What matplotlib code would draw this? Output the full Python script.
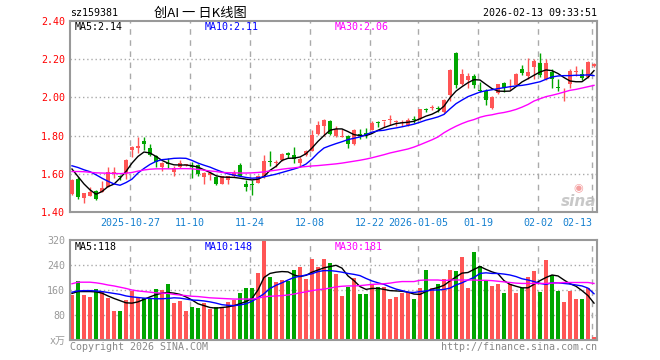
import numpy as np
import pandas as pd
import matplotlib
matplotlib.use("Agg")
import matplotlib.pyplot as plt

# --- data (2025-10-13 .. 2026-02-13, 88 trading days) ---
opens = [1.495, 1.572, 1.475, 1.486, 1.512, 1.505, 1.533, 1.600, 1.588, 1.603,
         1.726, 1.737, 1.774, 1.737, 1.695, 1.635, 1.659, 1.609, 1.633, 1.645,
         1.640, 1.644, 1.582, 1.595, 1.582, 1.547, 1.568, 1.586, 1.644, 1.544,
         1.547, 1.554, 1.582, 1.668, 1.658, 1.670, 1.707, 1.698, 1.656, 1.700,
         1.721, 1.809, 1.849, 1.879, 1.796, 1.795, 1.796, 1.754, 1.807, 1.812,
         1.828, 1.872, 1.877, 1.882, 1.870, 1.868, 1.858, 1.886, 1.889, 1.939,
         1.947, 1.942, 1.923, 2.011, 2.235, 2.068, 2.091, 2.112, 2.035, 2.035,
         1.946, 2.025, 2.075, 2.063, 2.063, 2.147, 2.114, 2.160, 2.182, 2.096,
         2.133, 2.053, 2.005, 2.068, 2.135, 2.123, 2.107, 2.167]
highs = [1.572, 1.582, 1.498, 1.532, 1.515, 1.560, 1.633, 1.634, 1.596, 1.677,
         1.745, 1.791, 1.795, 1.756, 1.700, 1.663, 1.682, 1.639, 1.674, 1.650,
         1.660, 1.650, 1.607, 1.605, 1.590, 1.590, 1.590, 1.621, 1.656, 1.565,
         1.568, 1.595, 1.700, 1.721, 1.670, 1.709, 1.712, 1.740, 1.686, 1.726,
         1.828, 1.875, 1.889, 1.884, 1.852, 1.833, 1.805, 1.835, 1.833, 1.838,
         1.875, 1.879, 1.879, 1.910, 1.884, 1.884, 1.890, 1.905, 1.940, 1.946,
         1.960, 1.956, 1.990, 2.147, 2.239, 2.151, 2.130, 2.125, 2.081, 2.042,
         2.007, 2.072, 2.081, 2.095, 2.130, 2.170, 2.205, 2.203, 2.230, 2.203,
         2.151, 2.095, 2.051, 2.149, 2.163, 2.149, 2.191, 2.179]
lows = [1.490, 1.470, 1.449, 1.484, 1.463, 1.503, 1.530, 1.580, 1.568, 1.572,
        1.690, 1.709, 1.723, 1.695, 1.633, 1.614, 1.630, 1.591, 1.630, 1.640,
        1.580, 1.586, 1.546, 1.567, 1.540, 1.545, 1.547, 1.584, 1.586, 1.512,
        1.488, 1.551, 1.577, 1.642, 1.633, 1.665, 1.684, 1.658, 1.635, 1.691,
        1.718, 1.805, 1.796, 1.805, 1.793, 1.795, 1.735, 1.749, 1.782, 1.787,
        1.828, 1.846, 1.845, 1.856, 1.852, 1.852, 1.852, 1.866, 1.884, 1.924,
        1.933, 1.921, 1.919, 1.981, 2.047, 2.063, 2.051, 2.051, 2.028, 1.960,
        1.940, 2.020, 2.028, 2.040, 2.060, 2.116, 2.098, 2.098, 2.107, 2.093,
        2.051, 2.033, 1.980, 2.051, 2.114, 2.093, 2.103, 2.161]
closes = [1.568, 1.481, 1.498, 1.507, 1.468, 1.528, 1.609, 1.607, 1.584, 1.674,
          1.740, 1.747, 1.758, 1.700, 1.660, 1.656, 1.649, 1.630, 1.656, 1.647,
          1.633, 1.598, 1.603, 1.603, 1.547, 1.586, 1.586, 1.604, 1.591, 1.532,
          1.539, 1.589, 1.668, 1.660, 1.661, 1.705, 1.698, 1.679, 1.679, 1.718,
          1.803, 1.858, 1.884, 1.809, 1.835, 1.800, 1.756, 1.828, 1.800, 1.805,
          1.867, 1.866, 1.879, 1.884, 1.872, 1.870, 1.884, 1.882, 1.937, 1.935,
          1.949, 1.937, 1.984, 2.142, 2.065, 2.121, 2.112, 2.065, 2.033, 1.984,
          2.004, 2.068, 2.051, 2.065, 2.121, 2.126, 2.133, 2.191, 2.116, 2.182,
          2.098, 2.051, 2.007, 2.140, 2.138, 2.100, 2.186, 2.175]

ma5 = [1.625, 1.586, 1.547, 1.516, 1.493, 1.507, 1.533, 1.546, 1.577, 1.612,
       1.656, 1.691, 1.714, 1.709, 1.691, 1.670, 1.656, 1.647, 1.646, 1.646,
       1.642, 1.635, 1.621, 1.607, 1.590, 1.583, 1.582, 1.581, 1.577, 1.572,
       1.568, 1.572, 1.586, 1.618, 1.639, 1.670, 1.681, 1.682, 1.688, 1.705,
       1.735, 1.770, 1.800, 1.828, 1.835, 1.835, 1.821, 1.805, 1.800, 1.800,
       1.811, 1.828, 1.842, 1.853, 1.863, 1.867, 1.870, 1.875, 1.888, 1.902,
       1.912, 1.928, 1.954, 1.998, 2.033, 2.056, 2.077, 2.093, 2.091, 2.068,
       2.046, 2.033, 2.032, 2.033, 2.056, 2.081, 2.098, 2.116, 2.133, 2.144,
       2.140, 2.125, 2.104, 2.086, 2.082, 2.082, 2.105, 2.140]
ma10 = [1.642, 1.633, 1.621, 1.611, 1.595, 1.577, 1.561, 1.547, 1.540, 1.554,
        1.572, 1.604, 1.628, 1.649, 1.665, 1.674, 1.677, 1.681, 1.682, 1.681,
        1.670, 1.656, 1.645, 1.635, 1.622, 1.610, 1.600, 1.593, 1.587, 1.581,
        1.577, 1.579, 1.584, 1.591, 1.598, 1.607, 1.616, 1.625, 1.635, 1.651,
        1.677, 1.709, 1.735, 1.747, 1.758, 1.768, 1.779, 1.786, 1.793, 1.805,
        1.818, 1.825, 1.828, 1.835, 1.840, 1.846, 1.853, 1.860, 1.870, 1.881,
        1.889, 1.898, 1.911, 1.940, 1.967, 1.986, 2.004, 2.016, 2.028, 2.035,
        2.040, 2.046, 2.051, 2.056, 2.060, 2.063, 2.068, 2.075, 2.082, 2.095,
        2.107, 2.112, 2.114, 2.114, 2.116, 2.116, 2.118, 2.114]
ma30 = [1.612, 1.612, 1.611, 1.608, 1.605, 1.604, 1.603, 1.602, 1.601, 1.603,
        1.607, 1.614, 1.620, 1.624, 1.626, 1.626, 1.626, 1.626, 1.627, 1.627,
        1.626, 1.623, 1.619, 1.615, 1.612, 1.607, 1.606, 1.605, 1.604, 1.604,
        1.605, 1.607, 1.610, 1.615, 1.619, 1.624, 1.628, 1.631, 1.635, 1.638,
        1.641, 1.643, 1.646, 1.649, 1.652, 1.656, 1.661, 1.666, 1.671, 1.677,
        1.684, 1.692, 1.700, 1.709, 1.716, 1.723, 1.730, 1.740, 1.752, 1.765,
        1.778, 1.793, 1.815, 1.833, 1.849, 1.863, 1.875, 1.884, 1.896, 1.904,
        1.909, 1.916, 1.921, 1.928, 1.937, 1.949, 1.963, 1.981, 1.993, 2.004,
        2.011, 2.019, 2.028, 2.037, 2.042, 2.049, 2.056, 2.063]

volume = [144, 189, 144, 138, 163, 155, 135, 93, 93, 128,
          157, 139, 133, 133, 163, 160, 179, 119, 125, 93,
          106, 103, 118, 99, 105, 103, 123, 128, 151, 167,
          167, 215, 318, 202, 186, 192, 189, 224, 235, 195,
          260, 235, 260, 246, 212, 141, 171, 199, 148, 148,
          179, 171, 169, 131, 139, 151, 155, 131, 167, 224,
          167, 179, 195, 224, 221, 266, 166, 282, 238, 189,
          173, 180, 150, 180, 150, 165, 202, 221, 154, 256,
          208, 157, 122, 157, 131, 131, 166, 10]
vma5 = [149, 155, 155, 155, 154, 150, 141, 133, 126, 119,
        118, 122, 130, 138, 145, 150, 152, 150, 146, 138,
        128, 116, 110, 104, 102, 104, 106, 110, 116, 123,
        133, 160, 200, 213, 217, 219, 218, 208, 203, 207,
        217, 224, 231, 235, 239, 230, 205, 190, 171, 162,
        165, 165, 162, 158, 157, 156, 153, 147, 146, 155,
        163, 168, 175, 189, 202, 214, 216, 226, 235, 226,
        218, 212, 190, 178, 172, 167, 167, 178, 190, 200,
        208, 205, 192, 180, 172, 158, 142, 118]
vma10 = [153, 157, 158, 158, 157, 155, 152, 149, 146, 141,
         138, 136, 134, 133, 132, 132, 133, 135, 134, 131,
         128, 127, 125, 122, 118, 113, 111, 110, 112, 116,
         124, 135, 148, 165, 175, 183, 192, 200, 204, 208,
         212, 219, 222, 222, 220, 217, 213, 210, 206, 197,
         189, 183, 178, 170, 163, 158, 153, 152, 155, 157,
         160, 160, 162, 166, 176, 183, 192, 200, 213, 215,
         213, 213, 211, 208, 203, 196, 192, 187, 181, 178,
         183, 183, 181, 179, 176, 173, 166, 148]
vma30 = [180, 185, 185, 185, 183, 180, 176, 173, 169, 165,
         160, 157, 155, 153, 151, 150, 149, 146, 144, 142,
         140, 139, 137, 135, 134, 133, 132, 131, 131, 131,
         131, 134, 138, 140, 141, 142, 144, 147, 151, 154,
         158, 161, 163, 166, 170, 172, 173, 173, 174, 176,
         178, 179, 180, 182, 185, 187, 187, 187, 191, 192,
         192, 192, 190, 192, 192, 192, 192, 192, 191, 191,
         190, 188, 186, 184, 182, 181, 181, 181, 181, 181,
         182, 183, 184, 184, 184, 184, 184, 181]

holidays = ["2026-01-01", "2026-01-02"]
tick_dates = ["2025-10-27", "2025-11-10", "2025-11-24", "2025-12-08", "2025-12-22",
              "2026-01-05", "2026-01-19", "2026-02-02", "2026-02-13"]
tick_labels = ["2025-10-27", "11-10", "11-24", "12-08", "12-22",
               "2026-01-05", "01-19", "02-02", "02-13"]
price_ticks = [1.40, 1.60, 1.80, 2.00, 2.20, 2.40]
vol_ticks = [80, 160, 240, 320]

RED, GREEN = "#ff5555", "#00a600"
GRID = "#aaaaaa"
MONO = "DejaVu Sans Mono"
FS = 7.2

dates = pd.bdate_range("2025-10-13", "2026-02-13")
dates = dates[~dates.isin(pd.to_datetime(holidays))]
x = np.arange(len(dates))
tick_pos = [dates.get_loc(pd.Timestamp(d)) - 0.33 for d in tick_dates]

o, h, l, c = map(np.array, (opens, highs, lows, closes))
up = c >= o
cols = np.where(up, RED, GREEN)

fig = plt.figure(figsize=(6.6, 3.6), dpi=100)
W, H = 660, 360
def box(l_, t_, r_, b_):
    return [l_ / W, 1 - b_ / H, (r_ - l_) / W, (b_ - t_) / H]

axp = fig.add_axes(box(70, 21, 597, 212))
axv = fig.add_axes(box(70, 240, 597, 340))

for ax in (axp, axv):
    ax.set_xlim(-0.33, 87.5)
    for s in ax.spines.values():
        s.set_color("#999999"); s.set_linewidth(1.5)
    for tp in tick_pos:
        ax.axvline(tp, color=GRID, lw=1, ls=(0, (4, 4)), zorder=0)
    ax.tick_params(length=0)

# price panel
axp.set_ylim(1.40, 2.40)
for yv in price_ticks[1:-1]:
    axp.axhline(yv, color=GRID, lw=1, ls=(0, (1, 2)), zorder=0)
axp.vlines(x, l, h, colors=cols, lw=1, zorder=2)
body = np.maximum(np.abs(c - o), 0.004)
axp.bar(x, body, bottom=np.minimum(o, c), width=0.78, color=cols, zorder=3)
axp.plot(x, ma5, color="black", lw=1, zorder=4)
axp.plot(x, ma10, color="#0000ff", lw=1, zorder=4)
axp.plot(x, ma30, color="#ff00ff", lw=1, zorder=4)
axp.set_yticks(price_ticks)
axp.set_yticklabels([f"{t:.2f}" for t in price_ticks], color="red",
                    fontfamily=MONO, fontsize=FS)
axp.set_xticks(tick_pos)
axp.set_xticklabels(tick_labels, color="#1580d0", fontfamily=MONO, fontsize=FS)
axp.tick_params(axis="x", pad=4)
lbl = axp.get_xticklabels()[-1]
lbl.set_ha("right"); lbl.set_x(tick_pos[-1])

# volume panel
axv.set_ylim(0, 320)
for yv in vol_ticks[:-1]:
    axv.axhline(yv, color=GRID, lw=1, ls=(0, (1, 2)), zorder=0)
axv.bar(x, volume, width=0.78, color=cols, zorder=2)
axv.plot(x, vma5, color="black", lw=1, zorder=4)
axv.plot(x, vma10, color="#0000ff", lw=1, zorder=4)
axv.plot(x, vma30, color="#ff00ff", lw=1, zorder=4)
axv.set_yticks([0] + vol_ticks)
axv.set_yticklabels(["x万"] + [str(t) for t in vol_ticks], color="#999999",
                    fontfamily=[MONO, "Noto Sans CJK SC"], fontsize=FS)
axv.set_xticks([])

# texts
def ftext(px, py, s, **kw):
    kw.setdefault("fontfamily", MONO)
    kw.setdefault("fontsize", FS)
    fig.text(px / W, 1 - py / H, s, va="center", **kw)

ftext(70, 13, "sz159381")
ftext(200, 13, "创AI 一 日K线图", ha="center", fontsize=9.5,
      fontfamily=["Noto Sans CJK SC", "DejaVu Sans"])
ftext(597, 13, "2026-02-13 09:33:51", ha="right")
ftext(75, 27, f"MA5:{ma5[-1]:.2f}")
ftext(205, 27, f"MA10:{ma10[-1]:.2f}", color="#0000ff")
ftext(335, 27, f"MA30:{ma30[-1]:.2f}", color="#ff00ff")
ftext(75, 247, f"MA5:{vma5[-1]}")
ftext(205, 247, f"MA10:{vma10[-1]}", color="#0000ff")
ftext(335, 247, f"MA30:{vma30[-1]}", color="#ff00ff")
ftext(70, 347, "Copyright 2026 SINA.COM", color="#888888")
ftext(597, 347, "http://finance.sina.com.cn", ha="right", color="#888888")
ftext(596, 201, "sina", ha="right", color="#bbbbbb", fontfamily="DejaVu Sans",
      fontsize=11, fontstyle="italic", fontweight="bold", alpha=0.8)
ftext(578, 188, "◉", ha="center", color="#f4a0a0", fontfamily="DejaVu Sans",
      fontsize=8)

fig.savefig("out.png", dpi=100)
